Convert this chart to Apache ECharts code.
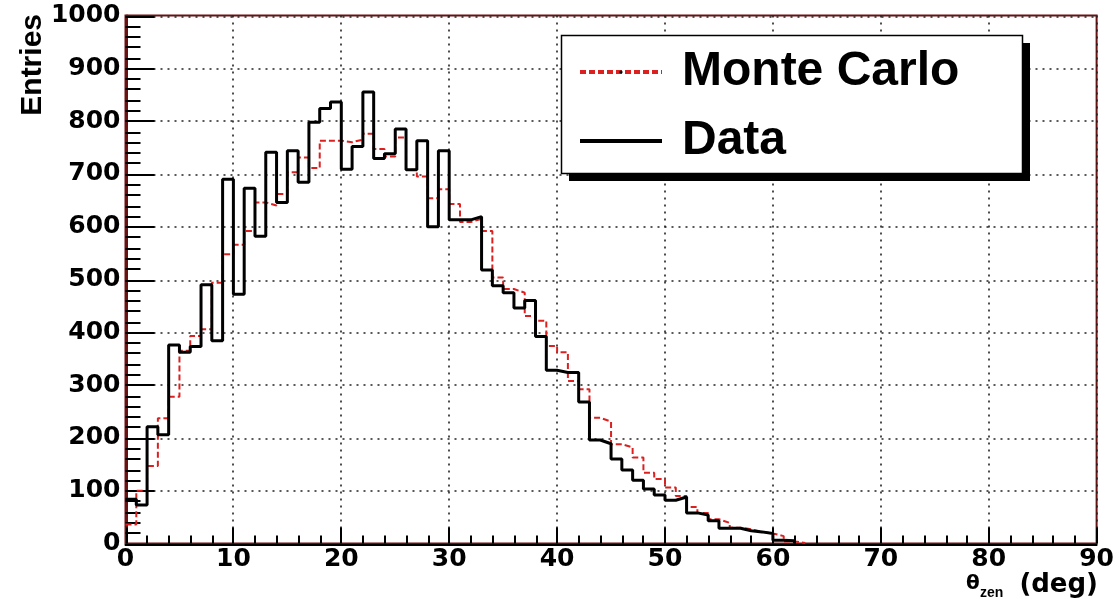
<!DOCTYPE html>
<html>
<head>
<meta charset="utf-8">
<title>Zenith angle distribution</title>
<script src="https://cdn.jsdelivr.net/npm/echarts@6/dist/echarts.min.js"></script>
<style>
  html { margin: 0; padding: 0; overflow: hidden; background: #ffffff; }
  body { margin: 0; padding: 0; width: 1119px; height: 599px; background: #ffffff; }
  /* drawn at half size with a 2x backing store, then scaled up to the full 1119x599 */
  #chart { width: 559.5px; height: 299.5px; transform: scale(2); transform-origin: 0 0; }
</style>
</head>
<body>
<div id="chart"></div>
<script>
// Histogram binning: 1-degree bins from 0 to 90 deg
const X_RANGE = [0, 90];
const Y_RANGE = [0, 1000];
const X_STEP = 10;
const Y_STEP = 100;
const BIN_WIDTH = 1;

// Entries per 1-degree bin (bins 0..89)
const monteCarlo = [
  36, 100, 147, 237, 278, 365, 393, 406, 494, 548,
  566, 592, 646, 640, 662, 703, 731, 711, 763, 763,
  760, 765, 776, 747, 733, 769, 708, 695, 654, 671,
  643, 609, 615, 592, 504, 482, 475, 431, 422, 374,
  362, 308, 292, 238, 231, 188, 182, 163, 134, 122,
  106, 90, 69, 58, 46, 39, 30, 27, 22, 19,
  14, 4, 1, 0, 0, 0, 0, 0, 0, 0,
  0, 0, 0, 0, 0, 0, 0, 0, 0, 0,
  0, 0, 0, 0, 0, 0, 0, 0, 0, 0
];

const data = [
  84, 73, 221, 206, 376, 362, 373, 490, 384, 690,
  472, 673, 582, 741, 646, 744, 684, 798, 824, 836,
  709, 752, 855, 729, 738, 785, 708, 763, 600, 744,
  613, 613, 619, 518, 488, 475, 446, 460, 392, 328,
  324, 324, 268, 196, 189, 160, 139, 120, 103, 92,
  82, 88, 58, 54, 43, 29, 29, 24, 22, 19,
  6, 5, 0, 0, 0, 0, 0, 0, 0, 0,
  0, 0, 0, 0, 0, 0, 0, 0, 0, 0,
  0, 0, 0, 0, 0, 0, 0, 0, 0, 0
];

const seriesNames = ['Monte Carlo', 'Data'];

// Step points [lowEdge, content]; the outline stops after the last filled bin
function toSteps(values) {
  let last = values.length - 1;
  while (last > 0 && values[last] === 0) last--;
  const pts = [];
  for (let i = 0; i <= last; i++) pts.push([X_RANGE[0] + i * BIN_WIDTH, values[i]]);
  pts.push([X_RANGE[0] + (last + 1) * BIN_WIDTH, 0]);
  return pts;
}

// Layout sizes are written in full-page pixels and halved for the half-size canvas
const K = 0.5;
const px = (v) => v * K;

const FRAME = '#6a1212';
const LABEL_FONT = '"DejaVu Sans", "Liberation Sans", Arial, sans-serif';
const TEXT_FONT = '"Liberation Sans", Arial, Helvetica, sans-serif';

const chart = echarts.init(document.getElementById('chart'), null, {
  renderer: 'canvas', devicePixelRatio: 2
});

chart.setOption({
  backgroundColor: '#ffffff',
  animation: false,
  grid: {
    left: px(125.5), top: px(15.5), right: px(21.5), bottom: px(56.5),
    show: true, borderColor: FRAME, borderWidth: px(2)
  },
  legend: {
    data: [
      { name: seriesNames[0], itemStyle: { color: '#000' } },
      { name: seriesNames[1], itemStyle: { opacity: 0 } }
    ],
    orient: 'vertical',
    left: px(578), top: px(37.5),
    padding: 0,
    itemGap: 0,
    itemWidth: px(82), itemHeight: px(4),
    z: 10,
    selectedMode: false,
    textStyle: {
      fontFamily: TEXT_FONT, fontWeight: 'bold', fontSize: px(48),
      color: '#000', lineHeight: px(44), padding: [px(25), 0, 0, px(10)]
    }
  },
  xAxis: {
    type: 'value',
    min: X_RANGE[0], max: X_RANGE[1], interval: X_STEP,
    axisLine: { show: true, onZero: false, lineStyle: { color: '#000', width: px(2) } },
    axisTick: { show: true, inside: true, length: px(16), lineStyle: { color: '#000', width: px(2) } },
    minorTick: { show: true, splitNumber: 5, length: px(8), lineStyle: { color: '#000', width: px(2) } },
    axisLabel: {
      margin: px(3), color: '#000', fontFamily: LABEL_FONT, fontWeight: 'bold', fontSize: px(25)
    },
    splitLine: { show: true, lineStyle: { color: '#222', width: px(1.6), type: [px(2), px(5)] } }
  },
  yAxis: {
    type: 'value',
    min: Y_RANGE[0], max: Y_RANGE[1], interval: Y_STEP,
    axisLine: { show: true, lineStyle: { color: FRAME, width: px(2) } },
    axisTick: { show: true, inside: true, length: px(29), lineStyle: { color: '#000', width: px(2) } },
    minorTick: { show: true, splitNumber: 5, length: px(15), lineStyle: { color: '#000', width: px(2) } },
    axisLabel: {
      margin: px(5), color: '#000', fontFamily: LABEL_FONT, fontWeight: 'bold', fontSize: px(25),
      formatter: (v) => String(v)
    },
    splitLine: { show: true, lineStyle: { color: '#222', width: px(1.6), type: [px(2), px(5)] } }
  },
  series: [
    {
      name: seriesNames[0],
      type: 'line',
      step: 'end',
      symbol: 'none',
      data: toSteps(monteCarlo),
      lineStyle: { color: '#dc2020', width: px(2), type: [px(6), px(3)] },
      itemStyle: { color: '#dc2020' },
      z: 3
    },
    {
      name: seriesNames[1],
      type: 'line',
      step: 'end',
      symbol: 'none',
      data: toSteps(data),
      lineStyle: { color: '#000000', width: px(3) },
      itemStyle: { color: '#000000' },
      z: 4
    }
  ],
  graphic: [
    // legend box with drop shadow
    { type: 'rect', z: 5, shape: { x: px(569), y: px(43), width: px(461), height: px(138) },
      style: { fill: '#000' } },
    { type: 'rect', z: 6, shape: { x: px(561.5), y: px(35.5), width: px(461), height: px(138) },
      style: { fill: '#fff', stroke: '#000', lineWidth: px(1.5) } },
    // y axis title
    { type: 'text', z: 6, x: px(33), y: px(14), rotation: Math.PI / 2,
      style: { text: 'Entries', fontFamily: TEXT_FONT, fontWeight: 'bold', fontSize: px(30),
               fill: '#000', align: 'right', verticalAlign: 'middle' } },
    // x axis title: theta_zen (deg)
    { type: 'text', z: 6, x: px(966), y: px(584),
      style: { text: 'θ', fontFamily: LABEL_FONT, fontWeight: 'bold', fontSize: px(20),
               fill: '#000', align: 'left', verticalAlign: 'middle' } },
    { type: 'text', z: 6, x: px(980), y: px(593),
      style: { text: 'zen', fontFamily: TEXT_FONT, fontWeight: 'bold', fontSize: px(14),
               fill: '#000', align: 'left', verticalAlign: 'middle' } },
    { type: 'text', z: 6, x: px(1098), y: px(585),
      style: { text: '(deg)', fontFamily: LABEL_FONT, fontWeight: 'bold', fontSize: px(26),
               fill: '#000', align: 'right', verticalAlign: 'middle' } }
  ]
});
</script>
</body>
</html>
